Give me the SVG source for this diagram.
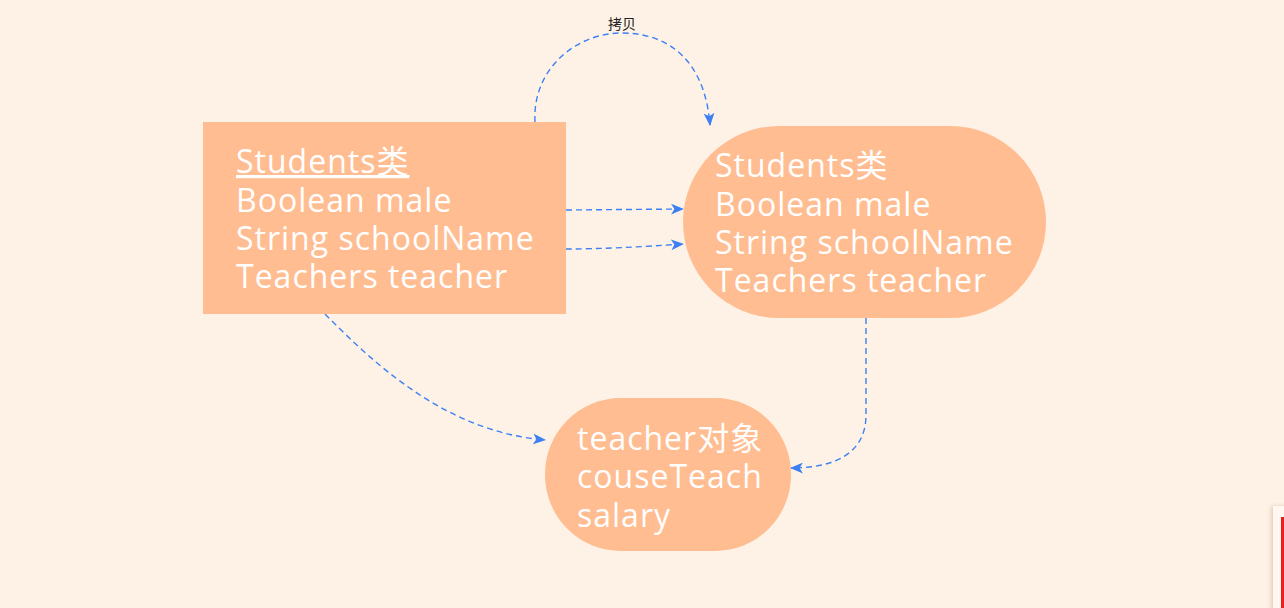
<svg xmlns="http://www.w3.org/2000/svg" width="1284" height="608" viewBox="0 0 1284 608">
<defs>
<style>
.node{fill:#FFBD91;}
.t{font-family:"Open Sans","Noto Sans CJK SC",sans-serif;font-size:32px;letter-spacing:1px;fill:#FFFFFF;}
.edge{fill:none;stroke:#3D80F5;stroke-width:1.4;stroke-dasharray:6 4;}
.lbl{font-family:"Noto Sans CJK SC","Liberation Sans",sans-serif;font-size:14px;fill:#222222;}
</style>
<marker id="arr" viewBox="0 0 12 10" refX="11" refY="5" markerWidth="13" markerHeight="11" markerUnits="userSpaceOnUse" orient="auto">
<path d="M0,0 L12,5 L0,10 L3,5 Z" fill="#3D80F5"/>
</marker>
<filter id="sh" x="-50%" y="-10%" width="200%" height="120%"><feDropShadow dx="-2" dy="0" stdDeviation="2" flood-color="#C8A890" flood-opacity="0.5"/></filter>
</defs>
<rect width="1284" height="608" fill="#FEF2E6"/>
<g id="connectors">
<path class="edge" d="M535,122 C532,70 575,33 622,33 C670,33 705,62 710,125" marker-end="url(#arr)"/>
<rect x="604" y="15" width="36" height="17" fill="#FEF2E6"/>
<text class="lbl" x="622" y="29" text-anchor="middle">拷贝</text>
<path class="edge" d="M566,210 L683,209" marker-end="url(#arr)"/>
<path class="edge" d="M566,249 C600,249 640,247 683,244" marker-end="url(#arr)"/>
<path class="edge" d="M325,314 C380,370 450,432 545,440" marker-end="url(#arr)"/>
<path class="edge" d="M866,318 L866,415 C866,455 832,468 791,468" marker-end="url(#arr)"/>
</g>
<g id="node-students-class">
<rect class="node" x="203" y="122" width="363" height="192"/>
<text class="t" x="236" y="173" text-decoration="underline">Students类</text>
<text class="t" x="236" y="212">Boolean male</text>
<text class="t" x="236" y="250">String schoolName</text>
<text class="t" x="236" y="288">Teachers teacher</text>
</g>
<g id="node-students-copy">
<rect class="node" x="683" y="126" width="363" height="192" rx="96" ry="96"/>
<text class="t" x="715" y="177">Students类</text>
<text class="t" x="715" y="216">Boolean male</text>
<text class="t" x="715" y="254">String schoolName</text>
<text class="t" x="715" y="292">Teachers teacher</text>
</g>
<g id="node-teacher">
<rect class="node" x="545" y="398" width="246" height="153" rx="76" ry="76"/>
<text class="t" x="577" y="450">teacher对象</text>
<text class="t" x="577" y="488">couseTeach</text>
<text class="t" x="577" y="527">salary</text>
</g>
<g id="corner-panel">
<rect x="1273" y="506" width="20" height="110" fill="#FFF7F0" filter="url(#sh)"/>
<rect x="1281" y="517" width="3" height="91" fill="#E8201A"/>
</g>
</svg>
